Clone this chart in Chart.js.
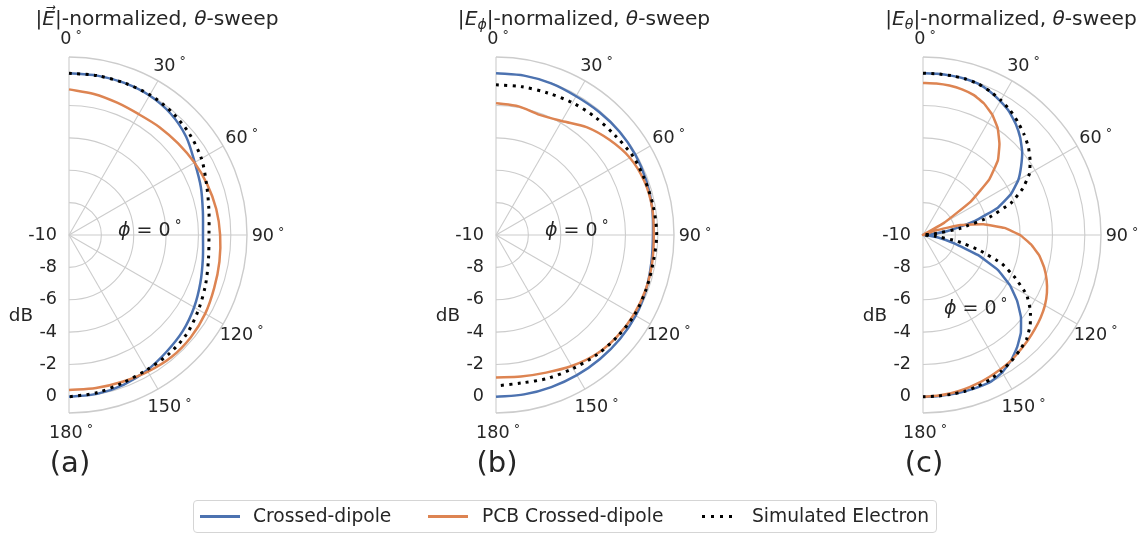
<!DOCTYPE html>
<html lang="en">
<head>
<meta charset="UTF-8">
<title>theta sweep</title>
<script src="https://cdn.jsdelivr.net/npm/chart.js"></script>
<style>
    body { margin: 0; background: #fff; }
    #wrap { position: relative; width: 1145px; height: 535px; overflow: hidden;
            font-family: "DejaVu Sans", sans-serif; color: #262626; }
    #wrap canvas { position: absolute; top: 0; }
    #legend { position: absolute; left: 193px; top: 500px; width: 744px; height: 33px;
              box-sizing: border-box; border: 1px solid #d5d5d5; border-radius: 4px; }
    #legend .ln { position: absolute; top: 14px; height: 2.5px; }
    #legend .lt { position: absolute; top: 3px; font-size: 18.7px; line-height: 24px; white-space: nowrap; }
</style>
</head>
<body>
<div id="wrap">
    <canvas id="chartA" width="427" height="535" style="left:0px"></canvas>
    <canvas id="chartB" width="427" height="535" style="left:427px"></canvas>
    <canvas id="chartC" width="291" height="535" style="left:854px"></canvas>
    <div id="legend">
        <div class="ln" style="left:6px;width:40px;background:#4C72B0"></div>
        <span class="lt" style="left:59px">Crossed-dipole</span>
        <div class="ln" style="left:234px;width:40px;background:#DD8452"></div>
        <span class="lt" style="left:288px">PCB Crossed-dipole</span>
        <div class="ln" style="left:508px;width:31px;height:3px;top:13.5px;background:repeating-linear-gradient(to right,#000 0 3px,transparent 3px 9px)"></div>
        <span class="lt" style="left:558px">Simulated Electron</span>
    </div>
</div>

<script>
    // theta (deg) and normalized level (dB)
    const thetaAB = [0, 10, 20, 30, 40, 50, 60, 70, 80, 90, 100, 110, 120, 130, 140, 150, 160, 170, 180];
    const thetaC = [0, 5, 10, 15, 20, 25, 30, 35, 40, 45, 50, 55, 60, 65, 70, 75, 80, 85, 90,
        95, 100, 105, 110, 115, 120, 125, 130, 135, 140, 145, 150, 155, 160, 165, 170, 175, 180];

    // (a) |E|
    const totCrossed = [0, 0, 0, -0.05, -0.22, -0.55, -1.03, -1.33, -1.6, -1.72, -1.6, -1.36, -1.07, -0.8, -0.6, -0.35, -0.15, -0.03, 0];
    const totPcb = [-1.0, -1.15, -1.3, -1.38, -1.3, -1.2, -1.05, -0.9, -0.76, -0.66, -0.56, -0.45, -0.28, -0.17, -0.15, -0.25, -0.35, -0.4, -0.42];
    const totSim = [0, 0, 0, 0, -0.1, -0.28, -0.55, -0.95, -1.22, -1.35, -1.25, -1.02, -0.76, -0.5, -0.4, -0.38, -0.28, -0.1, 0];

    // (b) |E_phi|
    const phiCrossed = [0, 0, -0.03, -0.1, -0.08, -0.05, -0.06, -0.12, -0.2, -0.3, -0.25, -0.13, -0.03, 0, 0, 0, 0, 0, 0];
    const phiPcb = [-1.85, -1.93, -2.1, -1.87, -1.3, -0.85, -0.45, -0.25, -0.2, -0.25, -0.2, -0.15, -0.17, -0.24, -0.38, -0.65, -0.95, -1.12, -1.2];
    const phiSim = [-0.72, -0.7, -0.66, -0.56, -0.48, -0.41, -0.24, -0.19, -0.12, -0.07, -0.14, -0.13, -0.12, -0.22, -0.33, -0.48, -0.58, -0.72, -0.67];

    // (c) |E_theta|
    const thCrossed = [0, 0, 0, 0, -0.05, -0.22, -0.45, -0.7, -1.07, -1.5, -2.0, -2.6, -3.2, -4.0, -5.1, -6.7, -8.3, -9.5, -10,
        -9.8, -9.0, -8.0, -6.4, -4.9, -3.8, -2.9, -2.1, -1.45, -0.95, -0.52, -0.2, -0.02, 0, 0, 0, 0, 0];
    const thPcb = [-0.6, -0.6, -0.62, -0.68, -0.8, -1.05, -1.43, -1.95, -2.65, -3.45, -4.65, -6.4, -8.5, -10, -9.2, -7.6, -6.2, -4.95, -4.0,
        -3.3, -2.7, -2.25, -1.87, -1.55, -1.3, -1.12, -0.97, -0.82, -0.68, -0.52, -0.42, -0.32, -0.22, -0.13, -0.07, -0.03, 0];
    const thSim = [0, 0, 0, 0, -0.05, -0.2, -0.38, -0.6, -0.88, -1.18, -1.5, -1.92, -2.4, -3.2, -4.2, -5.75, -7.7, -9.4, -10,
        -9.3, -7.9, -6.4, -4.8, -3.7, -2.6, -1.9, -1.35, -0.93, -0.7, -0.48, -0.3, -0.15, -0.06, 0, 0, 0, 0];

    const seriesNames = ['Crossed-dipole', 'PCB Crossed-dipole', 'Simulated Electron'];
    const rTicks = [-10, -8, -6, -4, -2, 0];
    const angleTicks = [0, 30, 60, 90, 120, 150, 180];
    const rMin = -10, rMax = 1;

    const BLUE = '#4C72B0', ORANGE = '#DD8452', DARK = '#262626', GRID = '#cccccc';
    const FONT = '"DejaVu Sans", sans-serif';

    function toXY(thetas, vals) {
        return thetas.map((t, i) => {
            const r = Math.max(vals[i] - rMin, 0);
            const a = t * Math.PI / 180;
            return {x: r * Math.sin(a), y: r * Math.cos(a)};
        });
    }

    // draw a run of text pieces (italic / sub / sup) starting at x
    function drawRich(ctx, parts, x, y, size, align) {
        const fontOf = p => (p.it ? 'oblique ' : '') + (size * (p.s || 1)) + 'px ' + FONT;
        let w = 0;
        parts.forEach(p => { ctx.font = fontOf(p); w += ctx.measureText(p.t).width + (p.gap || 0); });
        let cx = align === 'center' ? x - w / 2 : (align === 'right' ? x - w : x);
        ctx.textAlign = 'left';
        ctx.textBaseline = 'alphabetic';
        parts.forEach(p => {
            ctx.font = fontOf(p);
            cx += (p.gap || 0);
            ctx.fillText(p.t, cx, y + (p.dy || 0) * size);
            cx += ctx.measureText(p.t).width;
        });
    }

    function degParts(v) {
        return [{t: String(v)}, {t: '\u00B0', s: 0.72, gap: 4, dy: -0.3}];
    }

    function makePanel(id, thetas, s1, s2, s3, titleParts, phiAt, letter, tension) {
        const canvas = document.getElementById(id);
        const W = canvas.width;

        const polarGrid = {
            id: 'polarGrid',
            beforeDatasetsDraw(chart) {
                const {ctx, scales: {x, y}} = chart;
                const cx = x.getPixelForValue(0), cy = y.getPixelForValue(0);
                const rad = v => x.getPixelForValue(v - rMin) - cx;
                ctx.save();
                ctx.strokeStyle = GRID;
                ctx.lineWidth = 1.1;
                rTicks.forEach(t => {
                    if (t === rMin) return;
                    ctx.beginPath();
                    ctx.arc(cx, cy, rad(t), -Math.PI / 2, Math.PI / 2);
                    ctx.stroke();
                });
                angleTicks.forEach(a => {
                    const ang = a * Math.PI / 180;
                    ctx.beginPath();
                    ctx.moveTo(cx, cy);
                    ctx.lineTo(cx + rad(rMax) * Math.sin(ang), cy - rad(rMax) * Math.cos(ang));
                    ctx.stroke();
                });
                ctx.lineWidth = 1.4;
                ctx.beginPath();
                ctx.arc(cx, cy, rad(rMax), -Math.PI / 2, Math.PI / 2);
                ctx.stroke();
                ctx.restore();
            }
        };

        const polarText = {
            id: 'polarText',
            afterDraw(chart) {
                const {ctx, scales: {x, y}} = chart;
                const cx = x.getPixelForValue(0), cy = y.getPixelForValue(0);
                const unit = x.getPixelForValue(1) - cx;
                ctx.save();
                ctx.fillStyle = DARK;

                // angle labels
                const rl = 197;
                angleTicks.forEach(a => {
                    const ang = a * Math.PI / 180;
                    const px = cx + rl * Math.sin(ang), py = cy - rl * Math.cos(ang);
                    drawRich(ctx, degParts(a), px + 2, py + 6.2, 17.6, 'center');
                });
                // radial labels
                ctx.font = '17.6px ' + FONT;
                ctx.textAlign = 'right';
                ctx.textBaseline = 'middle';
                rTicks.forEach(t => {
                    ctx.fillText(String(t), cx - 12, y.getPixelForValue(-(t - rMin)));
                });
                ctx.font = '18.4px ' + FONT;
                ctx.textAlign = 'center';
                ctx.fillText('dB', cx - 48, cy + 81);

                // title
                drawRich(ctx, titleParts, cx + 88, 25, 20.2, 'center');
                // phi = 0
                drawRich(ctx, [{t: '\u03D5', it: true}, {t: ' = 0'}, {t: '\u00B0', s: 0.72, gap: 4, dy: -0.3}],
                    cx + phiAt[0] * unit, cy + phiAt[1], 19, 'left');
                // panel letter
                drawRich(ctx, [{t: letter}], cx + 1, 471.5, 29, 'center');
                ctx.restore();
            }
        };

        const ds = (label, vals, color, order, dash) => ({
            label: label,
            data: toXY(thetas, vals),
            showLine: true,
            borderColor: color,
            backgroundColor: color,
            borderWidth: dash ? 3 : 2.5,
            borderDash: dash || [],
            borderCapStyle: 'butt',
            pointRadius: 0,
            fill: false,
            clip: false,
            tension: tension,
            order: order
        });

        return new Chart(canvas, {
            type: 'scatter',
            data: {
                datasets: [
                    ds(seriesNames[0], s1, BLUE, 3),
                    ds(seriesNames[1], s2, ORANGE, 2),
                    ds(seriesNames[2], s3, '#000000', 1, [3, 5.3])
                ]
            },
            options: {
                responsive: false,
                devicePixelRatio: 1,
                animation: false,
                events: [],
                layout: {padding: {left: 69, right: W - 69 - 178, top: 57, bottom: 535 - 413}},
                scales: {
                    x: {type: 'linear', min: 0, max: rMax - rMin, display: false},
                    y: {type: 'linear', min: -(rMax - rMin), max: rMax - rMin, display: false}
                },
                plugins: {legend: {display: false}, tooltip: {enabled: false}}
            },
            plugins: [polarGrid, polarText]
        });
    }

    makePanel('chartA', thetaAB, totCrossed, totPcb, totSim,
        [{t: '|'}, {t: 'E\u20D7', it: true}, {t: '|-normalized, '}, {t: '\u03B8', it: true}, {t: '-sweep'}],
        [49 / 16.18, 0.5], '(a)', 0.3);
    makePanel('chartB', thetaAB, phiCrossed, phiPcb, phiSim,
        [{t: '|'}, {t: 'E', it: true}, {t: '\u03D5', it: true, s: 0.7, dy: 0.22}, {t: '|-normalized, '}, {t: '\u03B8', it: true}, {t: '-sweep'}],
        [49 / 16.18, 0.5], '(b)', 0.3);
    makePanel('chartC', thetaC, thCrossed, thPcb, thSim,
        [{t: '|'}, {t: 'E', it: true}, {t: '\u03B8', it: true, s: 0.7, dy: 0.22}, {t: '|-normalized, '}, {t: '\u03B8', it: true}, {t: '-sweep'}],
        [21 / 16.18, 78.5], '(c)', 0.1);
</script>
</body>
</html>
